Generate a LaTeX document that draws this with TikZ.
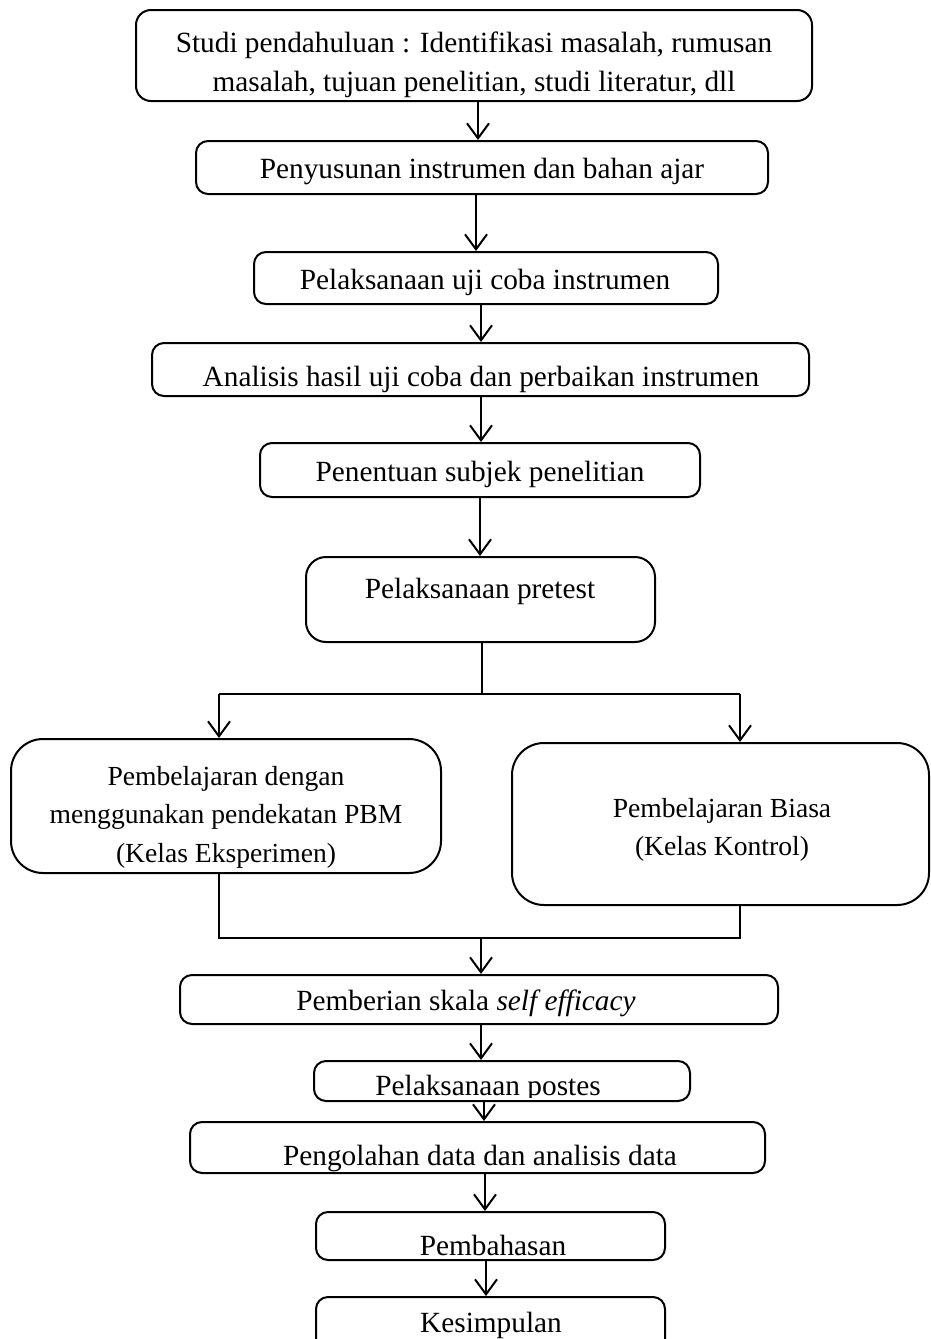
\documentclass[tikz,border=0pt]{standalone}
\usepackage{fontspec}
\setmainfont{Liberation Serif}
\usetikzlibrary{arrows.meta,fit}
\tikzset{
  x=1pt, y=-1pt,
  bx/.style={draw, line width=2pt, inner sep=0pt, rounded corners=#1},
  bx/.default=12pt,
  txt/.style={anchor=base, inner sep=0pt, font=\fontsize{29.3}{35}\selectfont},
  txtb/.style={anchor=base, inner sep=0pt, font=\fontsize{27.6}{33}\selectfont},
  ln/.style={line width=2pt},
  arr/.style={line width=2pt, -{Straight Barb[length=15pt,width=22pt,line width=2pt]}},
}
\newcommand\cliptext[3]{% node, radius, content
  \begin{scope}
    \clip[rounded corners=#2] ([shift={(2,-5)}]#1.south west) rectangle ([shift={(-2,2)}]#1.north east);
    #3
  \end{scope}}
\begin{document}
\begin{tikzpicture}
\useasboundingbox (0,0) rectangle (930,1339);
% boxes
\node[bx=15pt, fit={(136,10)(812,101)}] (b1) {};
\node[bx, fit={(196,141)(768,194)}] (b2) {};
\node[bx, fit={(254,252)(718,304)}] (b3) {};
\node[bx, fit={(152,343)(809,396)}] (b4) {};
\node[bx, fit={(260,443)(700,497)}] (b5) {};
\node[bx=20pt, fit={(306,557)(655,642)}] (b6) {};
\node[bx=32pt, fit={(11,739)(441,873)}] (b7) {};
\node[bx=32pt, fit={(512,743)(929,905)}] (b8) {};
\node[bx, fit={(180,975)(778,1024)}] (b9) {};
\node[bx, fit={(314,1061)(690,1101)}] (b10) {};
\node[bx, fit={(190,1122)(765,1173)}] (b11) {};
\node[bx, fit={(316,1212)(665,1260)}] (b12) {};
\node[bx, fit={(316,1297)(665,1380)}] (b13) {};
% texts
\cliptext{b1}{15pt}{\node[txt] (t1a) at (474,52) {Studi pendahuluan : Identifikasi masalah, rumusan};
  \node[txt] (t1b) at (474,91) {masalah, tujuan penelitian, studi literatur, dll};}
\node[txt] (t2) at (482,178) {Penyusunan instrumen dan bahan ajar};
\node[txt] (t3) at (485,289) {Pelaksanaan uji coba instrumen};
\cliptext{b4}{12pt}{\node[txt] (t4) at (481,386) {Analisis hasil uji coba dan perbaikan instrumen};}
\node[txt] (t5) at (480,481) {Penentuan subjek penelitian};
\node[txt] (t6) at (480,598) {Pelaksanaan pretest};
\node[txtb] (t7a) at (226,785) {Pembelajaran dengan};
\node[txtb] (t7b) at (226,823) {menggunakan pendekatan PBM};
\node[txtb] (t7c) at (226,862) {(Kelas Eksperimen)};
\node[txtb] (t8a) at (722,817) {Pembelajaran Biasa};
\node[txtb] (t8b) at (722,855) {(Kelas Kontrol)};
\node[txt] (t9) at (466,1010) {Pemberian skala \textit{self efficacy}};
\cliptext{b10}{12pt}{\node[txt] (t10) at (488,1095) {Pelaksanaan postes};}
\node[txt] (t11) at (480,1165) {Pengolahan data dan analisis data};
\cliptext{b12}{12pt}{\node[txt] (t12) at (493,1255) {Pembahasan};}
\node[txt] (t13) at (491,1332) {Kesimpulan};
% connectors
\draw[arr] (b1.south -| 478,0) -- (b2.north -| 478,0);
\draw[arr] (b2.south -| 476,0) -- (b3.north -| 476,0);
\draw[arr] (b3.south -| 481,0) -- (b4.north -| 481,0);
\draw[arr] (b4.south -| 481,0) -- (b5.north -| 481,0);
\draw[arr] (b5.south -| 480,0) -- (b6.north -| 480,0);
\coordinate (fL) at (219,694);
\coordinate (fR) at (740,694);
\draw[ln] (b6.south -| 482,0) -- (fL -| 482,0);
\draw[ln] (fL) -- (fR);
\draw[arr] (fL) -- (b7.north -| fL);
\draw[arr] (fR) -- (b8.north -| fR);
\coordinate (jL) at (219,938);
\coordinate (jR) at (740,938);
\draw[ln] (b7.south -| jL) -- (jL) -- (jR) -- (b8.south -| jR);
\draw[arr] (jL -| 481,0) -- (b9.north -| 481,0);
\draw[arr] (b9.south -| 481,0) -- (b10.north -| 481,0);
\draw[arr] (b10.south -| 484,0) -- (b11.north -| 484,0);
\draw[arr] (b11.south -| 485,0) -- (b12.north -| 485,0);
\draw[arr] (b12.south -| 486,0) -- (b13.north -| 486,0);
\end{tikzpicture}
\end{document}
